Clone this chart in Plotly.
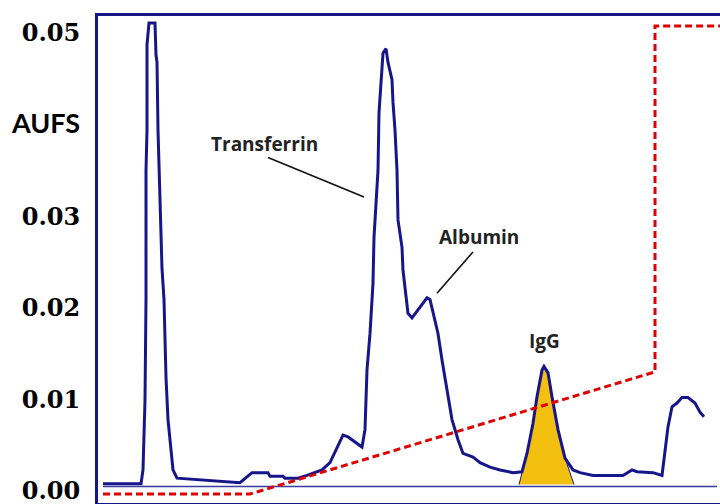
import plotly.graph_objects as go

# ---- data (time in arbitrary minutes, absorbance in AUFS) ----
trace_t = [0.5, 4.3, 4.5, 4.6, 4.7, 4.8, 4.8, 4.9, 4.9, 5.1, 5.7, 5.8, 5.9, 6.0, 6.1, 6.2, 6.3, 6.4,
           6.6, 6.7, 6.8, 7.0, 7.2, 7.5, 7.9, 10.2, 14.2, 15.4, 17.0, 17.2, 18.5, 18.7, 20.0, 20.9,
           22.4, 23.2, 23.9, 24.5, 25.0, 26.4, 26.7, 26.9, 27.2, 27.5, 27.6, 27.9, 28.0, 28.1, 28.4,
           28.5, 28.8, 29.0, 29.4, 29.5, 29.7, 29.9, 29.9, 30.0, 30.4, 30.5, 30.8, 31.0, 31.4, 32.0,
           32.9, 33.2, 33.5, 34.0, 34.4, 34.9, 35.4, 36.0, 36.5, 37.5, 38.2, 39.2, 40.2, 41.5, 42.4,
           42.9, 43.5, 43.9, 44.4, 44.6, 45.0, 45.4, 46.0, 46.7, 47.5, 48.2, 49.5, 52.5, 53.4, 53.9,
           55.5, 56.4, 56.7, 57.0, 57.4, 57.9, 58.4, 59.0, 59.7, 60.2, 60.6]
trace_aufs = [0.0008, 0.0008, 0.0023, 0.0052, 0.0099, 0.0209, 0.0350, 0.0394, 0.0487, 0.0511, 0.0511,
              0.0476, 0.0468, 0.0394, 0.0350, 0.0318, 0.0285, 0.0243, 0.0209, 0.0165, 0.0124, 0.0078,
              0.0056, 0.0023, 0.0014, 0.0012, 0.0009, 0.0020, 0.0020, 0.0016, 0.0016, 0.0014, 0.0014,
              0.0017, 0.0023, 0.0031, 0.0048, 0.0061, 0.0059, 0.0048, 0.0067, 0.0132, 0.0172, 0.0227,
              0.0277, 0.0329, 0.0350, 0.0413, 0.0456, 0.0478, 0.0483, 0.0468, 0.0449, 0.0424, 0.0394,
              0.0361, 0.0350, 0.0296, 0.0266, 0.0241, 0.0212, 0.0194, 0.0189, 0.0198, 0.0211, 0.0209,
              0.0194, 0.0172, 0.0143, 0.0110, 0.0078, 0.0056, 0.0041, 0.0037, 0.0031, 0.0026, 0.0023,
              0.0020, 0.0021, 0.0041, 0.0074, 0.0103, 0.0132, 0.0136, 0.0129, 0.0103, 0.0067, 0.0036,
              0.0023, 0.0020, 0.0017, 0.0017, 0.0023, 0.0021, 0.0020, 0.0017, 0.0041, 0.0070, 0.0092,
              0.0096, 0.0102, 0.0102, 0.0096, 0.0086, 0.0081]

igg_t = [42.1, 42.9, 43.5, 43.9, 44.4, 44.6, 45.0, 45.4, 46.0, 46.7, 47.6]
igg_aufs = [0.0007, 0.0041, 0.0074, 0.0103, 0.0132, 0.0136, 0.0129, 0.0103, 0.0067, 0.0036, 0.0007]

baseline_t = [0.5, 61.9]
baseline_aufs = [0.0005, 0.0005]

gradient_t = [0.5, 15.2, 55.7, 55.7, 62.2]
gradient_pct = [0, 0, 26.1, 100, 100]

tick_vals = [0.00, 0.01, 0.02, 0.03, 0.04, 0.05]
tick_text = ["0.00", "0.01", "0.02", "0.03",
             "<span style='font-family:Lato;font-size:27px'>AUFS</span>", "0.05"]

labels = ["Transferrin", "Albumin", "IgG"]
label_t = [16.6, 38.1, 44.6]
label_aufs = [0.0379, 0.0277, 0.0164]

leader_t0 = [17.0, 37.5]
leader_v0 = [0.0364, 0.0261]
leader_t1 = [26.6, 33.9]
leader_v1 = [0.0321, 0.0216]

NAVY = "#16168a"
RED = "#e00000"
GOLD = "#f4c010"

fig = go.Figure()

fig.add_trace(go.Scatter(x=baseline_t, y=baseline_aufs, mode="lines",
                         line=dict(color="#3a3aa0", width=1.5), hoverinfo="skip"))
fig.add_trace(go.Scatter(x=gradient_t, y=gradient_pct, mode="lines", yaxis="y2",
                         line=dict(color=RED, width=3, dash="7px,4px"), hoverinfo="skip"))
fig.add_trace(go.Scatter(x=igg_t, y=igg_aufs, mode="lines", fill="toself",
                         fillcolor=GOLD, line=dict(color=NAVY, width=1), hoverinfo="skip"))
fig.add_trace(go.Scatter(x=trace_t, y=trace_aufs, mode="lines",
                         line=dict(color=NAVY, width=3), hoverinfo="skip"))

for txt, tx, ty in zip(labels, label_t, label_aufs):
    fig.add_annotation(x=tx, y=ty, xref="x", yref="y", text=f"<b>{txt}</b>",
                       showarrow=False, font=dict(family="Open Sans", size=19, color="#222222"))

for x0, y0, x1, y1 in zip(leader_t0, leader_v0, leader_t1, leader_v1):
    fig.add_shape(type="line", x0=x0, y0=y0, x1=x1, y1=y1, xref="x", yref="y",
                  line=dict(color="#111111", width=1.6))

fig.update_layout(
    width=720, height=504,
    margin=dict(l=98, r=0, t=16, b=1),
    paper_bgcolor="white", plot_bgcolor="white",
    showlegend=False,
    xaxis=dict(range=[0, 62.2], showgrid=False, zeroline=False, showticklabels=False,
               showline=True, mirror=True, linecolor=NAVY, linewidth=3, ticks=""),
    yaxis=dict(range=[-0.00131, 0.05186], showgrid=False, zeroline=False,
               tickvals=tick_vals, ticktext=tick_text, ticks="",
               ticklabelstandoff=10, ticklabeloverflow="allow",
               tickfont=dict(family="DejaVu Serif", size=24, color="black", weight="bold"),
               showline=True, linecolor=NAVY, linewidth=3),
    yaxis2=dict(range=[-1.92, 102.14], overlaying="y", side="right", visible=False),
)

fig.write_html("out.html")
